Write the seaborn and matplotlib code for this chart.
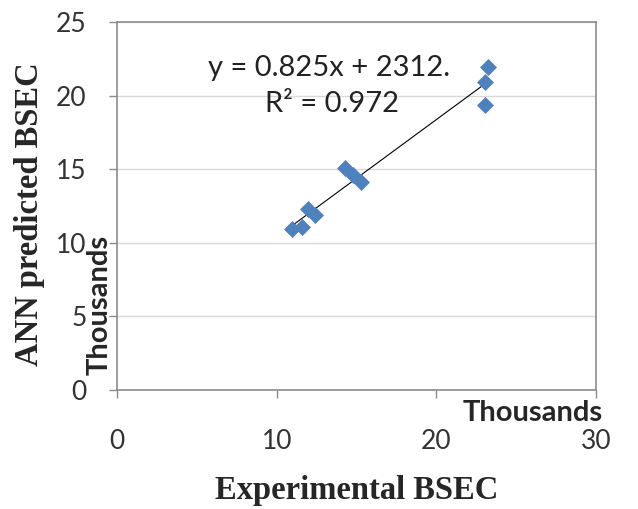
import numpy as np
import pandas as pd
import seaborn as sns
import matplotlib.pyplot as plt

# values in thousands
exp_bsec = [10.94, 11.57, 11.98, 12.40, 14.28, 14.80, 15.30, 23.04, 23.25, 23.04]
ann_bsec = [10.93, 11.09, 12.27, 11.88, 15.06, 14.60, 14.15, 20.95, 21.97, 19.37]
x_ticks = [0, 10, 20, 30]
y_ticks = [0, 5, 10, 15, 20, 25]
eq_text = 'y = 0.825x + 2312.'
r2_text = 'R² = 0.972'

df = pd.DataFrame({'exp': exp_bsec, 'ann': ann_bsec})

sns.set_style('white')
plt.rcParams['font.family'] = ['Lato', 'DejaVu Sans']

fig = plt.figure(figsize=(6.38, 5.09), dpi=100)
ax = fig.add_axes([117 / 638, 1 - 390 / 509, 479 / 638, 368 / 509])

sns.regplot(data=df, x='exp', y='ann', ax=ax, scatter=False, ci=None,
            color='black', line_kws={'linewidth': 0.8})
sns.scatterplot(data=df, x='exp', y='ann', ax=ax, marker='D', s=75,
                color='#4F81BD', linewidth=0, zorder=3)

ax.set(xlim=(0, 30), ylim=(0, 25), xlabel='', ylabel='')
ax.set_xticks(x_ticks)
ax.set_yticks(y_ticks)
ax.yaxis.grid(True, color='#d9d9d9', linewidth=1)
ax.set_axisbelow(True)
for side in ['top', 'right', 'left', 'bottom']:
    ax.spines[side].set_color('#8c8c8c')
    ax.spines[side].set_linewidth(1.2)
ax.tick_params(axis='both', direction='out', length=6, width=1, color='#8c8c8c',
               labelsize=19, labelcolor='#333333', bottom=True, left=True)
ax.tick_params(axis='x', pad=22)
ax.tick_params(axis='y', pad=16)

fig.text(208 / 638, 1 - 68 / 509, eq_text, fontsize=21, color='#222222', va='center', ha='left')
fig.text(265 / 638, 1 - 104 / 509, r2_text, fontsize=21, color='#222222', va='center', ha='left')

fig.text(603 / 638, 1 - 413 / 509, 'Thousands', fontsize=21, fontweight='bold',
         ha='right', va='center')
fig.text(100 / 638, 1 - 305 / 509, 'Thousands', fontsize=21, fontweight='bold',
         rotation=90, ha='center', va='center')

fig.text(357 / 638, 1 - 490 / 509, 'Experimental BSEC', family='Liberation Serif',
         fontsize=23.5, fontweight='bold', ha='center', va='center')
fig.text(30 / 638, 1 - 214 / 509, 'ANN predicted BSEC', family='Liberation Serif',
         fontsize=23.5, fontweight='bold', rotation=90, ha='center', va='center')

plt.savefig('out.png', dpi=100)
